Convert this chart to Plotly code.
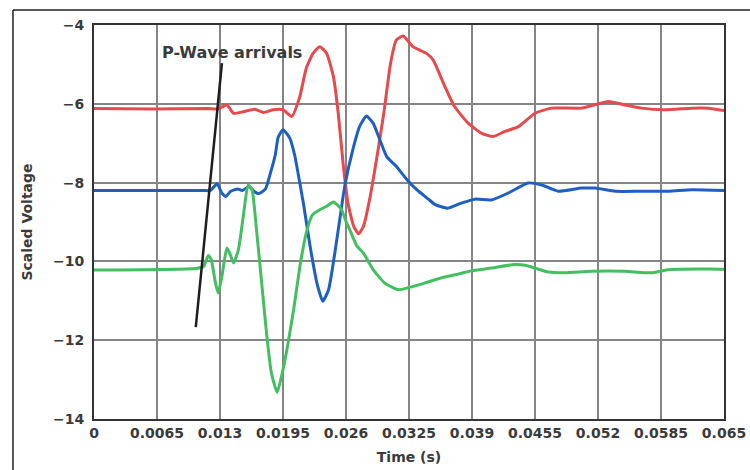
import plotly.graph_objects as go

# Time axis ticks (s)
tick_vals = [0, 0.0065, 0.013, 0.0195, 0.026, 0.0325, 0.039, 0.0455, 0.052, 0.0585, 0.065]
tick_text = ["0", "0.0065", "0.013", "0.0195", "0.026", "0.0325", "0.039", "0.0455", "0.052", "0.0585", "0.065"]
y_ticks = [-4, -6, -8, -10, -12, -14]

# Channel 1 (red)
red_t = [0, 0.006, 0.0118, 0.0128, 0.0137, 0.0144, 0.0154, 0.0166, 0.0175, 0.0185, 0.0195,
         0.0204, 0.0212, 0.0219, 0.0226, 0.0233, 0.0240, 0.0247, 0.0252, 0.0257, 0.0262,
         0.0268, 0.0273, 0.0278, 0.0285, 0.0292, 0.0299, 0.0306, 0.0312, 0.0319, 0.0329,
         0.0343, 0.0350, 0.0362, 0.0372, 0.0386, 0.0400, 0.0412, 0.0424, 0.0438, 0.0455,
         0.0472, 0.0503, 0.0531, 0.0548, 0.0565, 0.0589, 0.0617, 0.0634, 0.065]
red_v = [-6.12, -6.13, -6.12, -6.13, -6.03, -6.24, -6.20, -6.14, -6.22, -6.15, -6.15,
         -6.32, -5.85, -5.10, -4.72, -4.55, -4.72, -5.31, -6.24, -7.51, -8.52,
         -9.11, -9.30, -9.11, -8.35, -7.34, -6.24, -4.97, -4.38, -4.28, -4.55,
         -4.72, -4.89, -5.56, -6.07, -6.49, -6.75, -6.83, -6.70, -6.58, -6.24,
         -6.11, -6.11, -5.94, -6.03, -6.11, -6.15, -6.11, -6.11, -6.17]

# Channel 2 (blue)
blue_t = [0, 0.0113, 0.0120, 0.0127, 0.0132, 0.0136, 0.0141, 0.0148, 0.0153, 0.0160, 0.0165,
          0.0170, 0.0177, 0.0182, 0.0187, 0.0190, 0.0195, 0.0202, 0.0207, 0.0213, 0.0216,
          0.0223, 0.0230, 0.0236, 0.0242, 0.0249, 0.0254, 0.0259, 0.0267, 0.0274, 0.0281,
          0.0288, 0.0295, 0.0302, 0.0312, 0.0322, 0.0333, 0.0345, 0.0352, 0.0365, 0.0379,
          0.0393, 0.0410, 0.0427, 0.0448, 0.0462, 0.0479, 0.0503, 0.0517, 0.0538, 0.0565,
          0.0593, 0.0617, 0.065]
blue_v = [-8.20, -8.20, -8.20, -8.03, -8.27, -8.35, -8.22, -8.16, -8.20, -8.10, -8.22,
          -8.28, -8.16, -7.76, -7.30, -6.85, -6.66, -6.87, -7.30, -8.10, -8.52,
          -9.62, -10.55, -11.01, -10.72, -9.70, -8.86, -8.05, -7.17, -6.58, -6.31,
          -6.49, -6.92, -7.34, -7.59, -7.90, -8.18, -8.42, -8.56, -8.65, -8.52,
          -8.42, -8.44, -8.27, -8.01, -8.06, -8.22, -8.14, -8.14, -8.22, -8.22,
          -8.22, -8.18, -8.20]

# Channel 3 (green)
green_t = [0, 0.0105, 0.0113, 0.0118, 0.0121, 0.0125, 0.0128, 0.0132, 0.0137, 0.0140, 0.0144,
           0.0149, 0.0154, 0.0159, 0.0163, 0.0168, 0.0173, 0.0178, 0.0183, 0.0189,
           0.0195, 0.0206, 0.0213, 0.0219, 0.0225, 0.0233, 0.0240, 0.0247, 0.0255, 0.0261,
           0.0264, 0.0271, 0.0278, 0.0288, 0.0300, 0.0314, 0.0324, 0.0341, 0.0358, 0.0376,
           0.0389, 0.0410, 0.0434, 0.0445, 0.0455, 0.0469, 0.0486, 0.0513, 0.0548, 0.0575,
           0.0592, 0.0634, 0.065]
green_v = [-10.22, -10.18, -10.13, -9.85, -9.96, -10.50, -10.80, -10.38, -9.66, -9.79, -10.04,
           -9.70, -8.86, -8.06, -8.18, -9.28, -10.55, -11.82, -12.83, -13.32,
           -12.75, -11.22, -10.04, -9.28, -8.83, -8.69, -8.60, -8.49, -8.67, -9.05,
           -9.20, -9.60, -9.79, -10.21, -10.55, -10.72, -10.67, -10.55, -10.42, -10.32,
           -10.24, -10.17, -10.08, -10.10, -10.17, -10.27, -10.29, -10.25, -10.25, -10.29,
           -10.21, -10.19, -10.20]

# Line marking the P-wave arrivals
arrival_t = [0.0105, 0.0132]
arrival_v = [-11.67, -4.97]

FONT = "DejaVu Sans, Arial"
TEXT_COLOR = "#3a3a3a"

fig = go.Figure()
for t, v, c in [(red_t, red_v, "#e64a4f"), (blue_t, blue_v, "#1f5fc2"), (green_t, green_v, "#43bf62")]:
    fig.add_trace(go.Scatter(x=t, y=v, mode="lines",
                             line=dict(color=c, width=3, shape="spline", smoothing=0.5),
                             showlegend=False))

fig.add_trace(go.Scatter(x=arrival_t, y=arrival_v, mode="lines",
                         line=dict(color="#1e1e1e", width=2.5), showlegend=False))

fig.add_annotation(x=0.0068, y=-4.71, text="P-Wave arrivals", showarrow=False,
                   xanchor="left", yanchor="middle",
                   font=dict(family=FONT, size=16, color=TEXT_COLOR, weight="bold"))

tick_font = dict(family=FONT, size=14, color=TEXT_COLOR, weight="bold")
title_font = dict(family=FONT, size=14, color=TEXT_COLOR, weight="bold")

fig.update_xaxes(range=[0, 0.065], tickvals=tick_vals, ticktext=tick_text, tickfont=tick_font,
                 showgrid=True, gridcolor="#858585", gridwidth=1.5, zeroline=False,
                 showline=True, mirror=True, linecolor="#333333", linewidth=2,
                 ticks="", ticklabelstandoff=0, automargin=False,
                 title=dict(text="Time (s)", font=title_font, standoff=12))
fig.update_yaxes(range=[-14, -4], tickvals=y_ticks, tickfont=tick_font,
                 showgrid=True, gridcolor="#858585", gridwidth=1.5, zeroline=False,
                 showline=True, mirror=True, linecolor="#333333", linewidth=2,
                 ticks="", ticklabelstandoff=5, automargin=False,
                 title=dict(text="Scaled Voltage", font=title_font, standoff=17))

# Outer frame around the figure (top and left edges)
fig.add_shape(type="line", xref="paper", yref="paper", x0=-0.1286, y0=1.038, x1=1.05, y1=1.038,
              line=dict(color="#222222", width=1.5))
fig.add_shape(type="line", xref="paper", yref="paper", x0=-0.1286, y0=1.038, x1=-0.1286, y1=-0.15,
              line=dict(color="#222222", width=1.5))

fig.update_layout(width=750, height=470, margin=dict(l=94, r=26, t=25, b=51),
                  paper_bgcolor="white", plot_bgcolor="white")

fig.write_html("out.html")
